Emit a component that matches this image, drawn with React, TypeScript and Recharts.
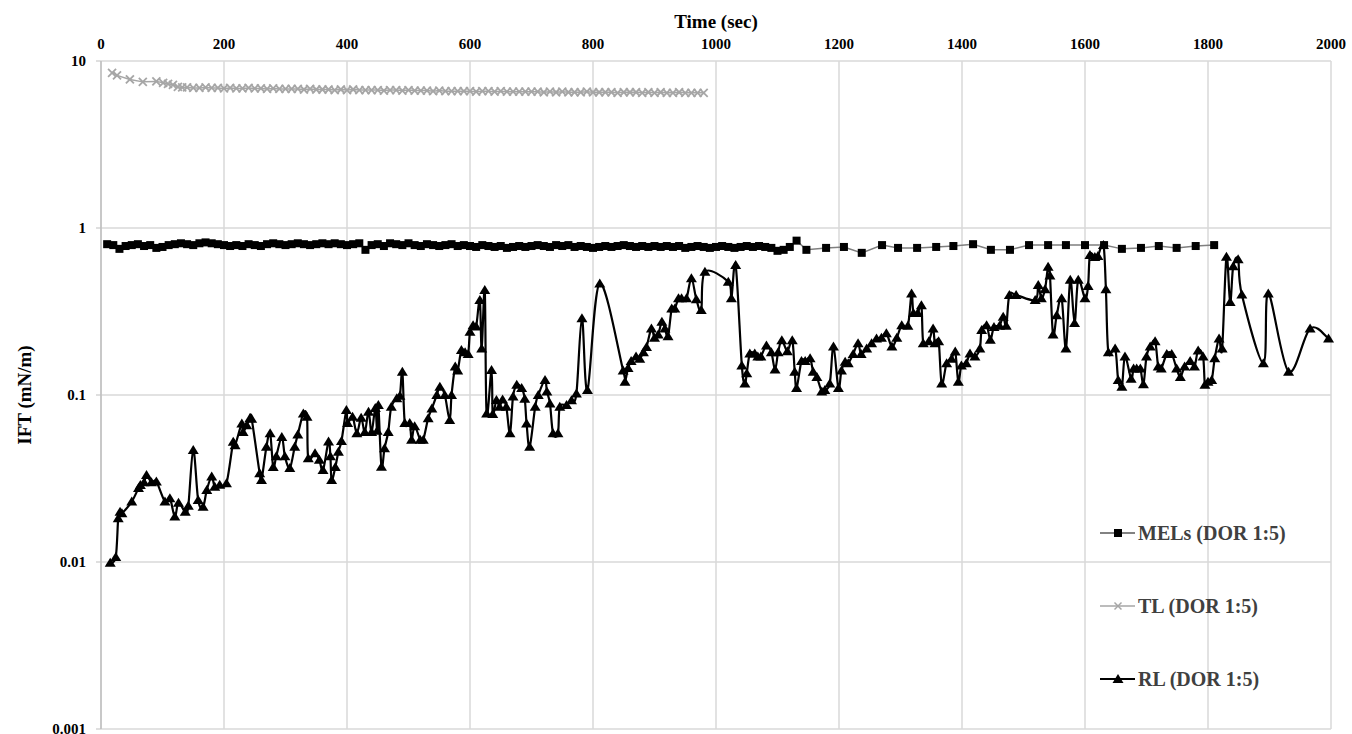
import { LineChart, Line, XAxis, YAxis, CartesianGrid, Legend } from 'recharts';

const SERIF = '"Liberation Serif", "Times New Roman", serif';

// [time (sec), IFT (mN/m)]
const melPoints: [number, number][] = [
  [10, 0.8], [20, 0.79], [30, 0.75], [40, 0.78], [50, 0.79], [60, 0.8], [70, 0.78], [80, 0.79], [90, 0.76], [100, 0.77],
  [110, 0.79], [120, 0.8], [130, 0.81], [140, 0.8], [150, 0.79], [160, 0.81], [170, 0.82], [180, 0.81], [190, 0.8], [200, 0.79],
  [210, 0.78], [220, 0.79], [230, 0.78], [240, 0.8], [250, 0.79], [260, 0.78], [270, 0.8], [280, 0.81], [290, 0.8], [300, 0.79],
  [310, 0.8], [320, 0.81], [330, 0.8], [340, 0.79], [350, 0.8], [360, 0.81], [370, 0.8], [380, 0.81], [390, 0.8], [400, 0.79],
  [410, 0.8], [420, 0.81], [430, 0.74], [440, 0.79], [450, 0.8], [460, 0.78], [470, 0.81], [480, 0.8], [490, 0.79], [500, 0.81],
  [510, 0.79], [520, 0.78], [530, 0.8], [540, 0.79], [550, 0.78], [560, 0.79], [570, 0.8], [580, 0.78], [590, 0.79], [600, 0.78],
  [610, 0.77], [620, 0.79], [630, 0.78], [640, 0.77], [650, 0.78], [660, 0.76], [670, 0.77], [680, 0.78], [690, 0.77], [700, 0.78],
  [710, 0.79], [720, 0.78], [730, 0.77], [740, 0.79], [750, 0.78], [760, 0.79], [770, 0.77], [780, 0.78], [790, 0.77], [800, 0.76],
  [810, 0.77], [820, 0.78], [830, 0.77], [840, 0.78], [850, 0.79], [860, 0.78], [870, 0.77], [880, 0.78], [890, 0.77], [900, 0.78],
  [910, 0.77], [920, 0.78], [930, 0.77], [940, 0.78], [950, 0.76], [960, 0.77], [970, 0.78], [980, 0.77], [990, 0.76], [1000, 0.77],
  [1010, 0.78], [1020, 0.77], [1030, 0.76], [1040, 0.77], [1050, 0.78], [1060, 0.77], [1070, 0.78], [1080, 0.77], [1090, 0.76], [1100, 0.73],
  [1110, 0.74], [1120, 0.77], [1131, 0.84], [1147, 0.74], [1179, 0.76], [1208, 0.77], [1237, 0.71], [1270, 0.79], [1296, 0.76], [1327, 0.76],
  [1358, 0.77], [1386, 0.78], [1418, 0.8], [1447, 0.74], [1478, 0.74], [1509, 0.79], [1540, 0.79], [1569, 0.79], [1600, 0.79], [1631, 0.79],
  [1660, 0.75], [1691, 0.76], [1720, 0.78], [1749, 0.76], [1780, 0.78], [1810, 0.79],
];

const tlPoints: [number, number][] = [
  [18, 8.5], [26, 8.2], [47, 7.75], [68, 7.5], [90, 7.55], [101, 7.4], [109, 7.3], [117, 7.2], [125, 7.0], [132, 6.95],
  [140, 6.95], [150, 6.9], [160, 6.9], [170, 6.95], [180, 6.9], [190, 6.9], [200, 6.85], [210, 6.9], [220, 6.85], [230, 6.85],
  [240, 6.9], [250, 6.85], [260, 6.85], [270, 6.8], [280, 6.85], [290, 6.8], [300, 6.8],
  [310, 6.8], [320, 6.8], [330, 6.75], [340, 6.8], [350, 6.75], [360, 6.75], [370, 6.75], [380, 6.7], [390, 6.75], [400, 6.7],
  [410, 6.75], [420, 6.7], [430, 6.7], [440, 6.7], [450, 6.7], [460, 6.65], [470, 6.7], [480, 6.7], [490, 6.65], [500, 6.7],
  [510, 6.65], [520, 6.65], [530, 6.65], [540, 6.6], [550, 6.65], [560, 6.6], [570, 6.6], [580, 6.6], [590, 6.6], [600, 6.6],
  [610, 6.55], [620, 6.6], [630, 6.6], [640, 6.55], [650, 6.6], [660, 6.55], [670, 6.55], [680, 6.55], [690, 6.55], [700, 6.55],
  [710, 6.55], [720, 6.5], [730, 6.55], [740, 6.5], [750, 6.55], [760, 6.5], [770, 6.5], [780, 6.5], [790, 6.55], [800, 6.5],
  [810, 6.5], [820, 6.5], [830, 6.5], [840, 6.45], [850, 6.5], [860, 6.5], [870, 6.5], [880, 6.45], [890, 6.5], [900, 6.45],
  [910, 6.5], [920, 6.45], [930, 6.45], [940, 6.5], [950, 6.45], [960, 6.45], [970, 6.45], [980, 6.45],
];

const rlPoints: [number, number][] = [
  [15, 0.0099], [24, 0.0107], [28, 0.0183], [31, 0.02], [34, 0.0196], [50, 0.023], [61, 0.0277], [64, 0.0289], [70, 0.03], [74, 0.0332],
  [82, 0.03], [90, 0.0303], [104, 0.023], [112, 0.0241], [120, 0.0187], [126, 0.0226], [137, 0.02], [142, 0.0217], [150, 0.0469], [158, 0.0235],
  [166, 0.0214], [172, 0.027], [180, 0.0325], [185, 0.0282], [193, 0.029], [204, 0.0296], [215, 0.0525], [218, 0.05], [229, 0.0676], [231, 0.06],
  [237, 0.066], [242, 0.0725], [245, 0.072], [258, 0.034], [261, 0.031], [269, 0.049], [275, 0.059], [280, 0.037], [285, 0.043], [294, 0.056],
  [299, 0.043], [307, 0.0365], [315, 0.049], [320, 0.058], [329, 0.0776], [335, 0.074], [337, 0.0418], [348, 0.0448], [355, 0.041], [361, 0.0355],
  [370, 0.0526], [373, 0.043], [375, 0.031], [381, 0.037], [386, 0.0458], [391, 0.053], [399, 0.0813], [401, 0.068], [409, 0.074], [416, 0.059],
  [423, 0.073], [429, 0.06], [435, 0.0795], [440, 0.06], [446, 0.0835], [449, 0.061], [451, 0.087], [456, 0.0372], [461, 0.048], [467, 0.06],
  [472, 0.085], [481, 0.0955], [486, 0.099], [490, 0.138], [494, 0.068], [502, 0.068], [505, 0.054], [510, 0.065], [519, 0.054], [524, 0.054],
  [532, 0.0725], [538, 0.083], [546, 0.1], [551, 0.112], [559, 0.1], [567, 0.0708], [570, 0.1], [576, 0.148], [580, 0.14], [586, 0.186],
  [592, 0.18], [597, 0.176], [600, 0.239], [605, 0.262], [610, 0.257], [616, 0.371], [619, 0.19], [624, 0.426], [627, 0.0776], [635, 0.141],
  [637, 0.077], [643, 0.0934], [648, 0.085], [653, 0.094], [659, 0.085], [665, 0.059], [670, 0.098], [676, 0.115], [684, 0.11], [689, 0.095],
  [692, 0.0676], [697, 0.049], [706, 0.085], [711, 0.1], [722, 0.123], [725, 0.105], [730, 0.089], [735, 0.059], [743, 0.059], [746, 0.085],
  [757, 0.087], [765, 0.093], [773, 0.102], [782, 0.288], [791, 0.107], [811, 0.466], [849, 0.14], [852, 0.12], [857, 0.145], [862, 0.16],
  [870, 0.17], [876, 0.165], [882, 0.18], [887, 0.194], [895, 0.25], [900, 0.22], [906, 0.23], [912, 0.275], [917, 0.25], [922, 0.225],
  [928, 0.33], [933, 0.33], [939, 0.379], [944, 0.38], [952, 0.38], [960, 0.5], [968, 0.375], [976, 0.323], [982, 0.547], [1020, 0.476],
  [1025, 0.38], [1032, 0.6], [1042, 0.15], [1047, 0.117], [1050, 0.135], [1055, 0.177], [1063, 0.177], [1068, 0.17], [1073, 0.17], [1082, 0.198],
  [1090, 0.18], [1096, 0.142], [1101, 0.18], [1107, 0.213], [1116, 0.183], [1124, 0.213], [1128, 0.138], [1131, 0.11], [1139, 0.16], [1145, 0.16],
  [1153, 0.166], [1158, 0.138], [1164, 0.128], [1172, 0.105], [1177, 0.107], [1185, 0.117], [1191, 0.195], [1199, 0.11], [1204, 0.14], [1210, 0.158],
  [1215, 0.155], [1223, 0.176], [1231, 0.204], [1236, 0.176], [1245, 0.19], [1253, 0.204], [1261, 0.218], [1269, 0.22], [1277, 0.234], [1286, 0.195],
  [1294, 0.22], [1302, 0.262], [1312, 0.26], [1318, 0.406], [1321, 0.31], [1328, 0.31], [1334, 0.345], [1337, 0.204], [1346, 0.21], [1353, 0.25],
  [1356, 0.204], [1362, 0.21], [1367, 0.117], [1375, 0.155], [1383, 0.165], [1389, 0.182], [1394, 0.12], [1399, 0.15], [1407, 0.155], [1413, 0.177],
  [1421, 0.17], [1429, 0.19], [1432, 0.245], [1440, 0.262], [1446, 0.214], [1452, 0.255], [1461, 0.26], [1467, 0.294], [1472, 0.26], [1477, 0.397],
  [1488, 0.397], [1519, 0.37], [1524, 0.455], [1529, 0.38], [1535, 0.43], [1540, 0.586], [1543, 0.52], [1548, 0.23], [1554, 0.3], [1562, 0.38],
  [1569, 0.19], [1576, 0.49], [1583, 0.27], [1589, 0.49], [1600, 0.38], [1605, 0.45], [1608, 0.69], [1616, 0.67], [1621, 0.68], [1630, 0.79],
  [1634, 0.43], [1638, 0.18], [1649, 0.19], [1654, 0.123], [1660, 0.112], [1665, 0.17], [1675, 0.125], [1679, 0.144], [1684, 0.144], [1690, 0.144],
  [1695, 0.116], [1700, 0.17], [1706, 0.195], [1714, 0.21], [1719, 0.148], [1724, 0.144], [1733, 0.176], [1741, 0.176], [1749, 0.144], [1755, 0.128],
  [1762, 0.148], [1771, 0.16], [1778, 0.148], [1784, 0.185], [1792, 0.17], [1795, 0.115], [1800, 0.12], [1806, 0.123], [1811, 0.166], [1818, 0.218],
  [1823, 0.19], [1830, 0.673], [1836, 0.36], [1841, 0.59], [1849, 0.65], [1855, 0.4], [1890, 0.155], [1898, 0.406], [1931, 0.138], [1966, 0.25],
  [1996, 0.218],
];

const xTicks = [0, 200, 400, 600, 800, 1000, 1200, 1400, 1600, 1800, 2000];
const yTicks = [0.001, 0.01, 0.1, 1, 10];

const toRows = (pts: [number, number][]) => pts.map(([t, v]) => ({ t, v }));

// Excel-style smoothed line (Catmull-Rom as cubic beziers)
const smoothCurve = (context: any) => {
  let pts: number[][] = [];
  return {
    areaStart() {},
    areaEnd() {},
    lineStart() {
      pts = [];
    },
    point(x: number, y: number) {
      pts.push([+x, +y]);
    },
    lineEnd() {
      const n = pts.length;
      if (!n) return;
      context.moveTo(pts[0][0], pts[0][1]);
      for (let i = 0; i < n - 1; i++) {
        const p0 = pts[i > 0 ? i - 1 : i];
        const p1 = pts[i];
        const p2 = pts[i + 1];
        const p3 = pts[i + 2 < n ? i + 2 : i + 1];
        context.bezierCurveTo(
          p1[0] + (p2[0] - p0[0]) / 6,
          p1[1] + (p2[1] - p0[1]) / 6,
          p2[0] - (p3[0] - p1[0]) / 6,
          p2[1] - (p3[1] - p1[1]) / 6,
          p2[0],
          p2[1],
        );
      }
    },
  };
};

const SquareDot = (props: any) => {
  const { cx, cy, index } = props;
  if (cx == null || cy == null) return <g key={`s${index}`} />;
  return <rect key={`s${index}`} x={cx - 4} y={cy - 4} width={8} height={8} fill="#000" />;
};

const CrossDot = (props: any) => {
  const { cx, cy, index } = props;
  if (cx == null || cy == null) return <g key={`c${index}`} />;
  return (
    <g key={`c${index}`} stroke="#a6a6a6" strokeWidth={1.8}>
      <line x1={cx - 4} y1={cy - 4} x2={cx + 4} y2={cy + 4} />
      <line x1={cx - 4} y1={cy + 4} x2={cx + 4} y2={cy - 4} />
    </g>
  );
};

const TriangleDot = (props: any) => {
  const { cx, cy, index } = props;
  if (cx == null || cy == null) return <g key={`t${index}`} />;
  return <polygon key={`t${index}`} points={`${cx},${cy - 5} ${cx - 5.5},${cy + 4} ${cx + 5.5},${cy + 4}`} fill="#000" />;
};

const legendItems = [
  { name: 'MELs (DOR 1:5)', line: '#595959', marker: 'square' },
  { name: 'TL (DOR 1:5)', line: '#a6a6a6', marker: 'cross' },
  { name: 'RL (DOR 1:5)', line: '#000', marker: 'triangle' },
];

function LegendBox() {
  return (
    <div style={{ fontFamily: SERIF, fontWeight: 700, fontSize: 20, color: '#404040' }}>
      {legendItems.map((it, i) => (
        <div key={it.name} style={{ display: 'flex', alignItems: 'center', height: 20, marginTop: i === 0 ? 0 : 53 }}>
          <svg width={38} height={20}>
            <line x1={2} y1={10} x2={37} y2={10} stroke={it.line} strokeWidth={it.marker === 'triangle' ? 2 : 1.5} />
            {it.marker === 'square' && <rect x={16} y={6} width={8} height={8} fill="#000" />}
            {it.marker === 'cross' && (
              <g stroke="#a6a6a6" strokeWidth={1.5}>
                <line x1={16.5} y1={6.5} x2={23.5} y2={13.5} />
                <line x1={16.5} y1={13.5} x2={23.5} y2={6.5} />
              </g>
            )}
            {it.marker === 'triangle' && <polygon points="20,5 14.5,14 25.5,14" fill="#000" />}
          </svg>
          <span style={{ marginLeft: 2, whiteSpace: 'nowrap' }}>{it.name}</span>
        </div>
      ))}
    </div>
  );
}

export default function App() {
  const tickStyle = { fill: '#000', fontSize: 15, fontWeight: 700, fontFamily: SERIF };
  return (
    <div style={{ position: 'absolute', left: 0, top: 0, background: '#fff' }}>
      <LineChart width={1352} height={734} margin={{ top: 0, right: 21, bottom: 5, left: 0 }}>
        <CartesianGrid stroke="#d9d9d9" strokeWidth={1.5} />
        <XAxis
          dataKey="t"
          type="number"
          orientation="top"
          domain={[0, 2000]}
          ticks={xTicks}
          interval={0}
          height={61}
          tickLine={false}
          axisLine={false}
          tickSize={0}
          tickMargin={12}
          tick={tickStyle}
          label={{ value: 'Time (sec)', position: 'insideTop', offset: 15, fill: '#000', fontSize: 19, fontWeight: 700, fontFamily: SERIF }}
        />
        <YAxis
          dataKey="v"
          type="number"
          scale="log"
          domain={[0.001, 10]}
          ticks={yTicks}
          interval={0}
          allowDataOverflow
          width={101}
          tickSize={5}
          tickMargin={10}
          tickLine={{ stroke: '#bfbfbf' }}
          axisLine={{ stroke: '#bfbfbf', strokeWidth: 1.5 }}
          tick={tickStyle}
          tickFormatter={(v: number) => String(v)}
          label={{ value: 'IFT (mN/m)', angle: -90, position: 'insideLeft', offset: 24, fill: '#000', fontSize: 19, fontWeight: 700, fontFamily: SERIF, style: { textAnchor: 'middle' } }}
        />
        <Legend layout="horizontal" verticalAlign="middle" align="center" wrapperStyle={{ left: 1098, top: 523, width: 260 }} content={() => <LegendBox />} />
        <Line data={toRows(melPoints)} dataKey="v" name="MELs (DOR 1:5)" type="linear" stroke="#7f7f7f" strokeWidth={1.5} dot={SquareDot} activeDot={false} isAnimationActive={false} />
        <Line data={toRows(tlPoints)} dataKey="v" name="TL (DOR 1:5)" type="linear" stroke="#a6a6a6" strokeWidth={1.5} dot={CrossDot} activeDot={false} isAnimationActive={false} />
        <Line data={toRows(rlPoints)} dataKey="v" name="RL (DOR 1:5)" type={smoothCurve as any} stroke="#000" strokeWidth={2.2} dot={TriangleDot} activeDot={false} isAnimationActive={false} />
      </LineChart>
    </div>
  );
}
